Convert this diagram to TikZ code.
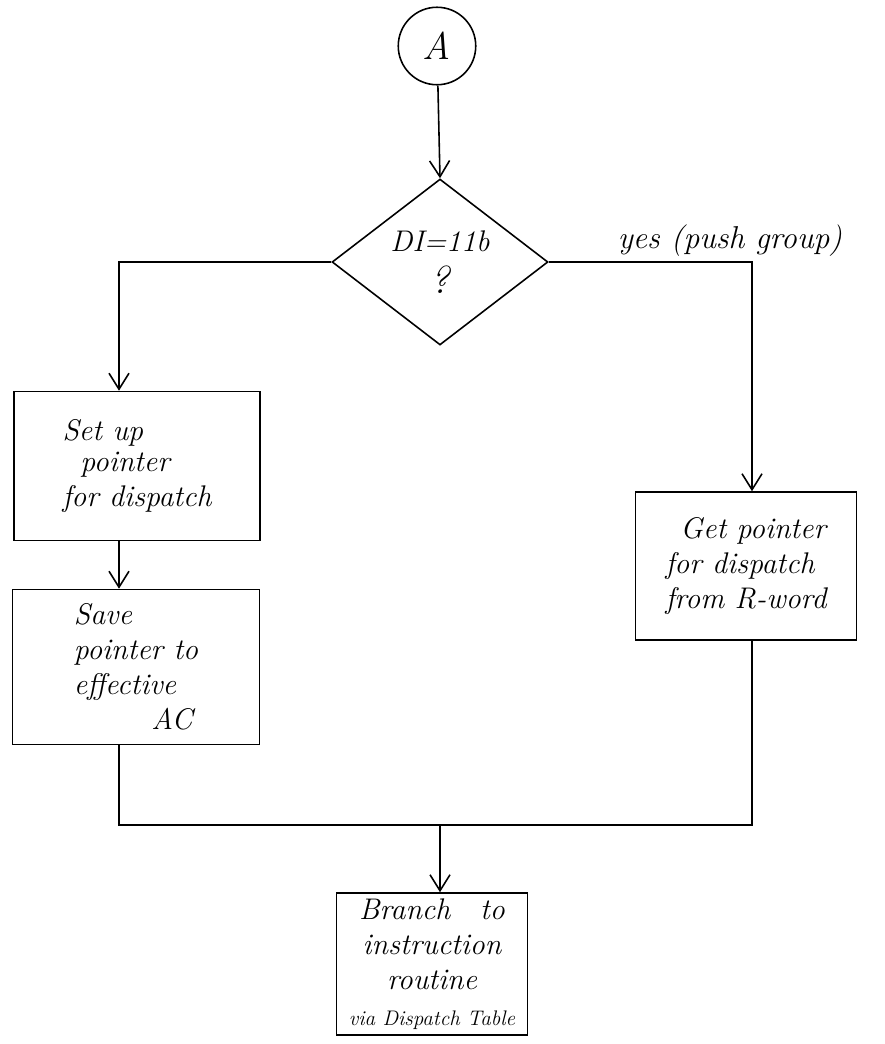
\documentclass[tikz,border=0pt]{standalone}
\usepackage{tikz}
\usetikzlibrary{arrows.meta,positioning,shapes.geometric}

\begin{document}
\begin{tikzpicture}[x=.02cm,y=-.02cm,>={Straight Barb[length=3.2mm,width=4mm]},
    line width=.9pt,
    hand/.style={font=\fontsize{17}{20}\selectfont\itshape},
    flowbox/.style={draw,rectangle,hand,inner sep=0pt},
    decision/.style={draw,diamond,hand,inner sep=0pt,align=center,
      minimum width=4.32cm,minimum height=3.32cm},
    connector/.style={draw,circle,font=\fontsize{22}{24}\selectfont\itshape,
      minimum size=1.55cm,inner sep=0pt}]
  \useasboundingbox (0,0) rectangle (885,1044);

  % entry point and test
  \node[connector] (entryA) at (437,46) {A};
  \node[decision] (dicheck) at (440,262) {DI=11b\\[4pt]{\fontsize{22}{24}\selectfont ?}};
  \node[hand,font=\fontsize{18}{21}\selectfont\itshape] (yeslbl) at (730,241) {yes (push group)};

  % left branch
  \node[flowbox,minimum width=4.92cm,minimum height=2.98cm,align=left] (setup) at (137,466)
    {Set up\\[-2pt]\hspace*{.6em}pointer\\for dispatch};
  \node[flowbox,minimum width=4.94cm,minimum height=3.1cm,align=left] (saveptr) at (136,667)
    {Save\\pointer to\\effective\\\hspace*{2.6em}AC};

  % right branch
  \node[flowbox,minimum width=4.42cm,minimum height=2.96cm,align=left] (getptr) at (746,566)
    {\hspace*{.5em}Get pointer\\for dispatch\\from R-word};

  % common exit
  \node[flowbox,minimum width=3.82cm,minimum height=2.84cm,align=center] (branch) at (432,964)
    {Branch\quad to\\instruction\\routine\\{\fontsize{12}{14}\selectfont via Dispatch Table}};

  \coordinate (lturn) at (119,262);
  \coordinate (rturn) at (752,262);
  \coordinate (merge) at (440,825);

  \draw[->] (entryA) -- (dicheck.north);
  \draw[->] (dicheck.west) -- (lturn) -- (lturn |- setup.north);
  \draw[->] (dicheck.east) -- (rturn) -- (rturn |- getptr.north);
  \draw[->] (setup.south -| lturn) -- (saveptr.north -| lturn);
  \draw (saveptr.south -| lturn) -- (lturn |- merge) -- (rturn |- merge) -- (getptr.south -| rturn);
  \draw[->] (merge) -- (branch.north -| merge);
\end{tikzpicture}
\end{document}
